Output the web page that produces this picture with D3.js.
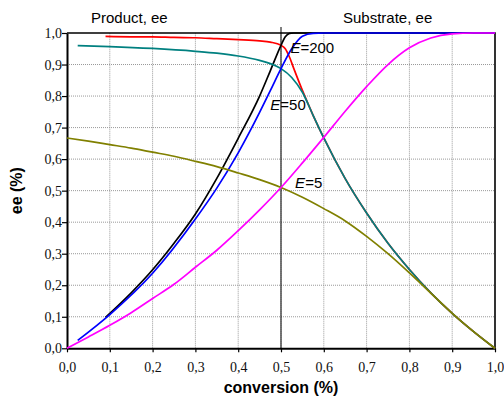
<!DOCTYPE html>
<html>
<head>
<meta charset="utf-8">
<script src="https://cdn.jsdelivr.net/npm/d3@7"></script>
<style>
  body { margin: 0; background: #fff; }
  svg { display: block; }
</style>
</head>
<body>
<svg width="504" height="398"></svg>
<script>
// kinetic resolution: ee of substrate / product against conversion, E = 200, 50, 5
const conv200 = [0.09, 0.15, 0.2, 0.25, 0.3, 0.35, 0.4, 0.45, 0.475, 0.5, 0.51, 0.52, 0.53, 0.55, 0.575, 0.6, 0.65, 0.7, 0.75, 0.8, 0.85, 0.9, 0.95, 1.0];
const eeS200  = [0.098, 0.176, 0.249, 0.333, 0.426, 0.539, 0.666, 0.800, 0.880, 0.961, 0.988, 0.999, 1, 1, 1, 1, 1, 1, 1, 1, 1, 1, 1, 1];
const eeP200  = [0.989, 0.988, 0.988, 0.986, 0.985, 0.982, 0.979, 0.975, 0.971, 0.961, 0.950, 0.923, 0.887, 0.818, 0.739, 0.667, 0.538, 0.429, 0.333, 0.25, 0.176, 0.111, 0.053, 0];

const conv50 = [0.025, 0.1, 0.2, 0.3, 0.35, 0.4, 0.45, 0.475, 0.5, 0.525, 0.55, 0.575, 0.6, 0.65, 0.7, 0.75, 0.8, 0.85, 0.9, 0.95, 1.0];
const eeS50  = [0.025, 0.107, 0.238, 0.410, 0.508, 0.620, 0.748, 0.817, 0.887, 0.950, 0.990, 0.999, 1, 1, 1, 1, 1, 1, 1, 1, 1];
const eeP50  = [0.960, 0.957, 0.951, 0.942, 0.936, 0.927, 0.913, 0.903, 0.887, 0.859, 0.812, 0.739, 0.667, 0.538, 0.429, 0.333, 0.25, 0.176, 0.111, 0.053, 0];

const conv5 = [0, 0.05, 0.1, 0.15, 0.2, 0.25, 0.3, 0.35, 0.4, 0.45, 0.5, 0.55, 0.6, 0.65, 0.7, 0.75, 0.8, 0.85, 0.9, 0.95, 1.0];
const eeS5  = [0, 0.036, 0.073, 0.113, 0.158, 0.203, 0.257, 0.311, 0.373, 0.439, 0.510, 0.588, 0.669, 0.752, 0.830, 0.900, 0.953, 0.984, 0.997, 1, 1];
const eeP5  = [0.667, 0.657, 0.646, 0.635, 0.622, 0.609, 0.593, 0.576, 0.556, 0.535, 0.510, 0.479, 0.443, 0.404, 0.355, 0.300, 0.239, 0.175, 0.111, 0.053, 0];

const tickVals = [0, 0.1, 0.2, 0.3, 0.4, 0.5, 0.6, 0.7, 0.8, 0.9, 1.0];

// drawing order matters: later series sit on top
const series = [
  { c: conv200, v: eeP200, color: '#ff0000' },
  { c: conv200, v: eeS200, color: '#000000' },
  { c: conv50,  v: eeP50,  color: '#008080' },
  { c: conv50,  v: eeS50,  color: '#0000ff' },
  { c: conv5,   v: eeP5,   color: '#808000' },
  { c: conv5,   v: eeS5,   color: '#ff00ff' },
];
const labels = [
  { t: '200', c: 0.522, v: 0.937 },
  { t: '50',  c: 0.475, v: 0.756 },
  { t: '5',   c: 0.533, v: 0.508 },
];

const SANS = 'Liberation Sans';
const SERIF = 'Liberation Serif';

const svg = d3.select('svg');
const x = d3.scaleLinear().domain([0, 1]).range([67, 495]);
const y = d3.scaleLinear().domain([0, 1]).range([348.3, 33]);
const fmt = d => d.toFixed(1).replace('.', ',');

// dotted grid
svg.append('g').selectAll('line').data(tickVals.slice(1, -1)).join('line')
  .attr('x1', d => x(d)).attr('x2', d => x(d)).attr('y1', y(0)).attr('y2', y(1))
  .attr('stroke', '#999').attr('stroke-width', 1).attr('stroke-dasharray', '1,1');
svg.append('g').selectAll('line').data(tickVals.slice(1, -1)).join('line')
  .attr('y1', d => y(d)).attr('y2', d => y(d)).attr('x1', x(0)).attr('x2', x(1))
  .attr('stroke', '#999').attr('stroke-width', 1).attr('stroke-dasharray', '1,1');

// axes
const xa = svg.append('g').attr('transform', `translate(0,${y(0)})`)
  .call(d3.axisBottom(x).tickValues(tickVals).tickFormat(fmt).tickSize(4).tickPadding(10).tickSizeOuter(0));
const ya = svg.append('g').attr('transform', `translate(${x(0)},0)`)
  .call(d3.axisLeft(y).tickValues(tickVals).tickFormat(fmt).tickSize(5).tickPadding(0).tickSizeOuter(0));
[xa, ya].forEach(g => {
  g.attr('font-family', SERIF).attr('font-size', 14);
  g.selectAll('.tick text').attr('fill', '#111');
  g.select('.domain').attr('stroke', '#000').attr('stroke-width', 2);
  g.selectAll('.tick line').attr('stroke', '#000').attr('stroke-width', 1.2);
});

// top + right frame
svg.append('path').attr('d', `M${x(0)},${y(1)}H${x(1)}V${y(0)}`).attr('fill', 'none').attr('stroke', '#000').attr('stroke-width', 1.6);

// c = 0.5 marker line
svg.append('line').attr('x1', x(0.5)).attr('x2', x(0.5)).attr('y1', y(1) - 6).attr('y2', y(0))
  .attr('stroke', '#000').attr('stroke-width', 1);

// curves
const line = d3.line().x(d => x(d[0])).y(d => y(d[1])).curve(d3.curveMonotoneX);
series.forEach(s => {
  svg.append('path').attr('d', line(s.c.map((c, i) => [c, s.v[i]])))
    .attr('fill', 'none').attr('stroke', s.color).attr('stroke-width', 1.7).attr('stroke-linejoin', 'round');
});

// E labels
labels.forEach(l => {
  const t = svg.append('text').attr('x', x(l.c)).attr('y', y(l.v))
    .attr('font-family', SANS).attr('font-size', 15).attr('fill', '#000');
  t.append('tspan').attr('font-style', 'italic').text('E');
  t.append('tspan').text('=' + l.t);
});

// headers and axis titles
svg.append('text').attr('x', 91).attr('y', 23).attr('font-family', SANS)
  .attr('font-size', 15).text('Product, ee');
svg.append('text').attr('x', 343).attr('y', 23).attr('font-family', SANS)
  .attr('font-size', 15).text('Substrate, ee');
svg.append('text').attr('x', x(0.5)).attr('y', 393).attr('text-anchor', 'middle')
  .attr('font-family', SANS).attr('font-size', 16).attr('font-weight', 'bold')
  .text('conversion (%)');
svg.append('text').attr('transform', `translate(22,${(y(0) + y(1)) / 2}) rotate(-90)`).attr('text-anchor', 'middle')
  .attr('font-family', SANS).attr('font-size', 16).attr('font-weight', 'bold')
  .text('ee (%)');
</script>
</body>
</html>
